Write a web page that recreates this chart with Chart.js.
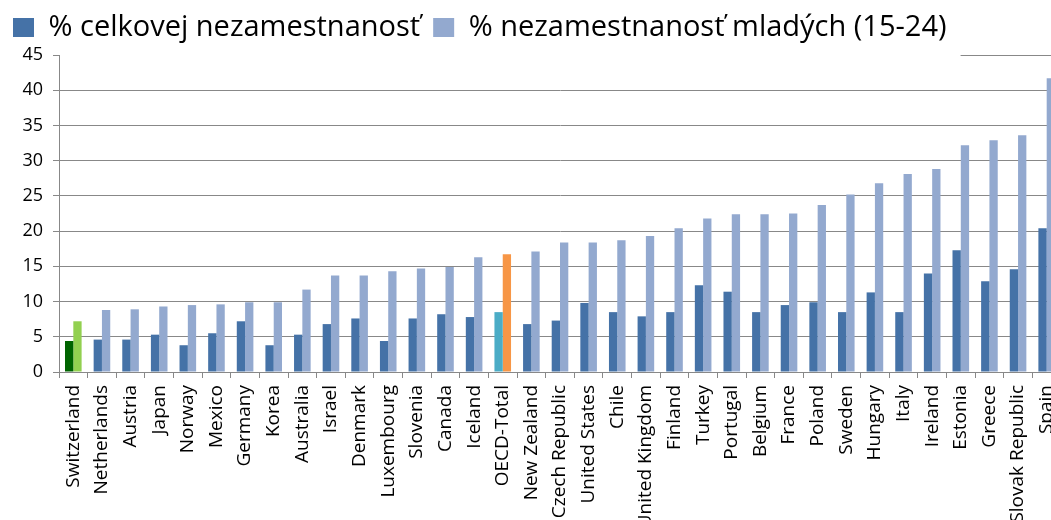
<!DOCTYPE html>
<html>
<head>
<meta charset="utf-8">
<script src="https://cdn.jsdelivr.net/npm/chart.js@4"></script>
<style>
    html, body { margin: 0; padding: 0; overflow: hidden; background: #fff; }
    #wrap { width: 1061px; height: 520px; }
</style>
</head>
<body>
<div id="wrap"><canvas id="unemploymentChart"></canvas></div>
<script>
const categories = ['Switzerland', 'Netherlands', 'Austria', 'Japan', 'Norway', 'Mexico', 'Germany', 'Korea',
    'Australia', 'Israel', 'Denmark', 'Luxembourg', 'Slovenia', 'Canada', 'Iceland', 'OECD-Total',
    'New Zealand', 'Czech Republic', 'United States', 'Chile', 'United Kingdom', 'Finland', 'Turkey',
    'Portugal', 'Belgium', 'France', 'Poland', 'Sweden', 'Hungary', 'Italy', 'Ireland', 'Estonia',
    'Greece', 'Slovak Republic', 'Spain'];

const totalRate = [4.4, 4.6, 4.6, 5.3, 3.8, 5.5, 7.2, 3.8, 5.3, 6.8, 7.6, 4.4, 7.6, 8.2, 7.8, 8.5,
    6.8, 7.3, 9.8, 8.5, 7.9, 8.5, 12.3, 11.4, 8.5, 9.5, 9.9, 8.5, 11.3, 8.5, 14.0, 17.3, 12.9, 14.6, 20.4];

const youthRate = [7.2, 8.8, 8.9, 9.3, 9.5, 9.6, 9.9, 9.9, 11.7, 13.7, 13.7, 14.3, 14.7, 14.9, 16.3, 16.7,
    17.1, 18.4, 18.4, 18.7, 19.3, 20.4, 21.8, 22.4, 22.4, 22.5, 23.7, 25.2, 26.8, 28.1, 28.8, 32.2, 32.9, 33.6, 41.7];

const seriesNames = ['% celkovej nezamestnanosť', '% nezamestnanosť mladých (15-24)'];
const yTicks = [0, 5, 10, 15, 20, 25, 30, 35, 40, 45];

const seriesColors = ['#4572A7', '#93A9CF'];
const swissColors = ['#006400', '#92D050'];
const oecdColors = ['#4BACC6', '#F79646'];

const highlightIdx = categories.indexOf('Switzerland');
const oecdIdx = categories.indexOf('OECD-Total');
const gridColor = '#888888';
const yMax = yTicks[yTicks.length - 1];

function barColor(c) {
    const s = c.datasetIndex;
    if (c.dataIndex === highlightIdx) return swissColors[s];
    if (c.dataIndex === oecdIdx) return oecdColors[s];
    return seriesColors[s];
}

// the top grid line only shows to the right of the legend
const topLine = {
    id: 'topLine',
    beforeDatasetsDraw(chart) {
        const y = Math.round(chart.scales.y.getPixelForValue(yMax)) + 0.5;
        const boxes = chart.legend.legendHitBoxes;
        const last = boxes[boxes.length - 1];
        const ctx = chart.ctx;
        ctx.save();
        ctx.strokeStyle = gridColor;
        ctx.lineWidth = 1;
        ctx.beginPath();
        ctx.moveTo(last.left + last.width + 14, y);
        ctx.lineTo(chart.chartArea.right, y);
        ctx.stroke();
        ctx.restore();
    }
};

var ctx = document.getElementById('unemploymentChart').getContext('2d');
// eslint-disable-next-line no-undef
new Chart(ctx, {
    type: 'bar',
    data: {
        labels: categories,
        datasets: [{
            label: seriesNames[0],
            data: totalRate,
            backgroundColor: barColor,
            categoryPercentage: 0.58,
            barPercentage: 1
        }, {
            label: seriesNames[1],
            data: youthRate,
            backgroundColor: barColor,
            categoryPercentage: 0.58,
            barPercentage: 1
        }]
    },
    options: {
        responsive: true,
        maintainAspectRatio: false,
        animation: false,
        layout: { padding: 0 },
        plugins: {
            tooltip: { enabled: false },
            legend: {
                position: 'top',
                align: 'start',
                weight: 3000,
                labels: {
                    boxWidth: 21,
                    boxHeight: 19,
                    padding: 13,
                    color: '#000',
                    font: { family: 'Open Sans', size: 29 },
                    generateLabels(chart) {
                        // eslint-disable-next-line no-undef
                        const items = Chart.defaults.plugins.legend.labels.generateLabels(chart);
                        items.forEach((item, i) => {
                            item.fillStyle = seriesColors[i];
                            item.strokeStyle = seriesColors[i];
                            item.lineWidth = 0;
                        });
                        return items;
                    }
                }
            },
            title: {
                display: true,
                text: '',
                font: { size: 1, lineHeight: 1 },
                padding: { top: 0, bottom: 2 }
            }
        },
        scales: {
            x: {
                grid: {
                    drawOnChartArea: false,
                    offset: true,
                    tickLength: 6,
                    color: gridColor
                },
                border: { color: gridColor },
                ticks: {
                    autoSkip: false,
                    minRotation: 90,
                    maxRotation: 90,
                    padding: 7,
                    color: '#000',
                    font: { family: 'Open Sans', size: 19 }
                },
                afterFit(scale) {
                    scale.height = 148;
                    scale.paddingLeft = 0;
                    scale.paddingRight = 0;
                }
            },
            y: {
                min: 0,
                max: yMax,
                afterBuildTicks(scale) {
                    scale.ticks = yTicks.map(v => ({ value: v }));
                },
                grid: {
                    color: c => (c.tick && c.tick.value === yMax ? 'rgba(0,0,0,0)' : gridColor),
                    tickColor: gridColor,
                    tickLength: 6
                },
                border: { color: gridColor },
                ticks: {
                    padding: 10,
                    color: '#000',
                    font: { family: 'Open Sans', size: 18 }
                },
                afterFit(scale) {
                    scale.width = 59;
                }
            }
        }
    },
    plugins: [topLine]
});
</script>
</body>
</html>
